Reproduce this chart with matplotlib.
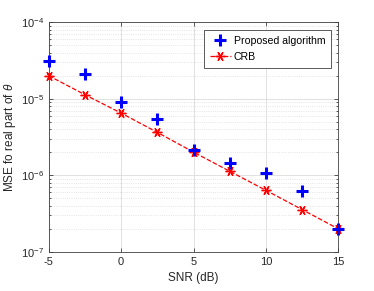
import matplotlib
matplotlib.use("Agg")
import matplotlib.pyplot as plt

snr = [-5, -2.5, 0, 2.5, 5, 7.5, 10, 12.5, 15]
mse_proposed = [3.1e-5, 2.08e-5, 9.2e-6, 5.5e-6, 2.16e-6, 1.44e-6, 1.09e-6, 6.3e-7, 2.0e-7]
mse_crb = [2.0e-5, 1.13e-5, 6.5e-6, 3.64e-6, 2.01e-6, 1.13e-6, 6.37e-7, 3.57e-7, 2.0e-7]

face = 'Liberation Sans'
plt.rcParams['font.family'] = [face, 'DejaVu Sans']
plt.rcParams['mathtext.fontset'] = 'custom'
plt.rcParams['mathtext.rm'] = face
plt.rcParams['mathtext.it'] = face + ':italic'
plt.rcParams['font.size'] = 8

fig = plt.figure(figsize=(3.74, 2.91), dpi=100)
ax = fig.add_axes([0.13, 0.134, 0.775, 0.79])

ax.semilogy(snr, mse_proposed, 'b+', markersize=8, markeredgewidth=2.2,
            linestyle='none', clip_on=False, zorder=4, label='Proposed algorithm')
ax.semilogy(snr, mse_crb, color='r', linestyle='--', marker=(6, 2, 90), markersize=7,
            markeredgewidth=1.0, linewidth=0.9, clip_on=False, zorder=3, label='CRB')

ax.set_xlim(-5, 15)
ax.set_ylim(1e-7, 1e-4)
ax.set_xticks([-5, 0, 5, 10, 15])
ax.set_xticklabels(['-5', '0', '5', '10', '15'])
ax.grid(True, which='major', color='#dcdcdc', linewidth=0.6, linestyle='-')
ax.grid(True, which='minor', axis='y', color='#dcdcdc', linewidth=0.6, linestyle=':')
ax.tick_params(which='both', direction='in', top=True, right=True, colors='#404040',
               labelcolor='#262626', width=0.6, labelsize=8)
ax.tick_params(which='major', length=3)
ax.tick_params(which='minor', length=1.5)
for s in ax.spines.values():
    s.set_color('#404040')
    s.set_linewidth(0.6)

ax.set_xlabel('SNR (dB)', color='#262626', fontsize=8.5)
ax.set_ylabel(r'MSE fo real part of $\theta$', color='#262626', fontsize=8.5)
ax.yaxis.set_label_coords(-0.105, 0.5)

leg = ax.legend(loc='upper right', bbox_to_anchor=(0.975, 0.965), fancybox=False,
                framealpha=1, edgecolor='#404040', borderpad=0.55, handlelength=2.0,
                handletextpad=0.3, labelspacing=0.55, borderaxespad=0, fontsize=7.6)
leg.get_frame().set_linewidth(0.6)

fig.savefig('out.png', dpi=100)
